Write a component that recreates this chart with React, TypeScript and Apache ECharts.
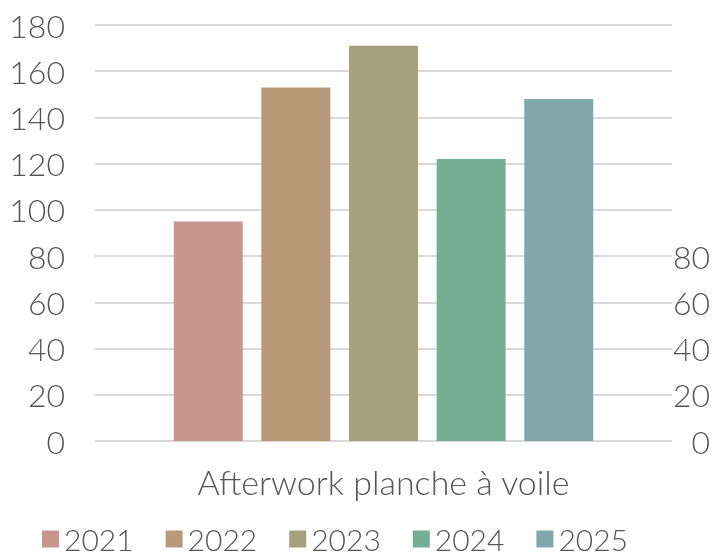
import React, { useEffect, useRef } from "react";
import * as echarts from "echarts";

const categories = ["Afterwork planche à voile"];
const seriesNames = ["2021", "2022", "2023", "2024", "2025"];
const seriesValues = [[95], [153], [171], [122], [148]];
const colors = ["#c8968f", "#b99a78", "#a4a17b", "#74ae95", "#80a8aa"];
const rightTickMax = 80;

export default function App() {
  const ref = useRef<HTMLDivElement>(null);
  useEffect(() => {
    if (!ref.current) return;
    const chart = echarts.init(ref.current, null, { renderer: "svg" });
    const font = "Lato";
    const textColor = "#555555";
    const weight = 300;
    chart.setOption({
      animation: false,
      textStyle: { fontFamily: font },
      grid: { left: 95, right: 42, top: 25, bottom: 117 },
      legend: {
        top: 519,
        left: 37,
        icon: "rect",
        itemWidth: 17,
        itemHeight: 17,
        itemGap: 32,
        textStyle: { fontSize: 30, lineHeight: 24, color: textColor, fontFamily: font, fontWeight: weight },
        data: seriesNames,
      },
      xAxis: {
        type: "category",
        data: categories,
        axisLine: { show: false },
        axisTick: { show: false },
        axisLabel: { fontSize: 34, color: textColor, margin: 23, fontFamily: font, fontWeight: weight },
      },
      yAxis: [
        {
          type: "value",
          min: 0,
          max: 180,
          interval: 20,
          axisLine: { show: false },
          axisTick: { show: false },
          splitLine: { lineStyle: { color: "#d9d9d9", width: 2 } },
          axisLabel: { fontSize: 32, color: textColor, margin: 30, fontFamily: font, fontWeight: weight },
        },
        {
          type: "value",
          position: "right",
          min: 0,
          max: 180,
          interval: 20,
          axisLine: { show: false },
          axisTick: { show: false },
          splitLine: { show: false },
          axisLabel: {
            fontSize: 32,
            color: textColor,
            margin: 38,
            align: "right",
            fontFamily: font,
            fontWeight: weight,
            formatter: (v: number) => (v <= rightTickMax ? String(v) : ""),
          },
        },
      ],
      series: seriesNames.map((name, i) => ({
        name,
        type: "bar",
        yAxisIndex: 0,
        data: seriesValues[i],
        barWidth: 69,
        barGap: "27%",
        itemStyle: { color: colors[i] },
      })),
    });
    return () => chart.dispose();
  }, []);
  return <div ref={ref} style={{ position: "fixed", left: 0, top: 0, width: 714, height: 558 }} />;
}
